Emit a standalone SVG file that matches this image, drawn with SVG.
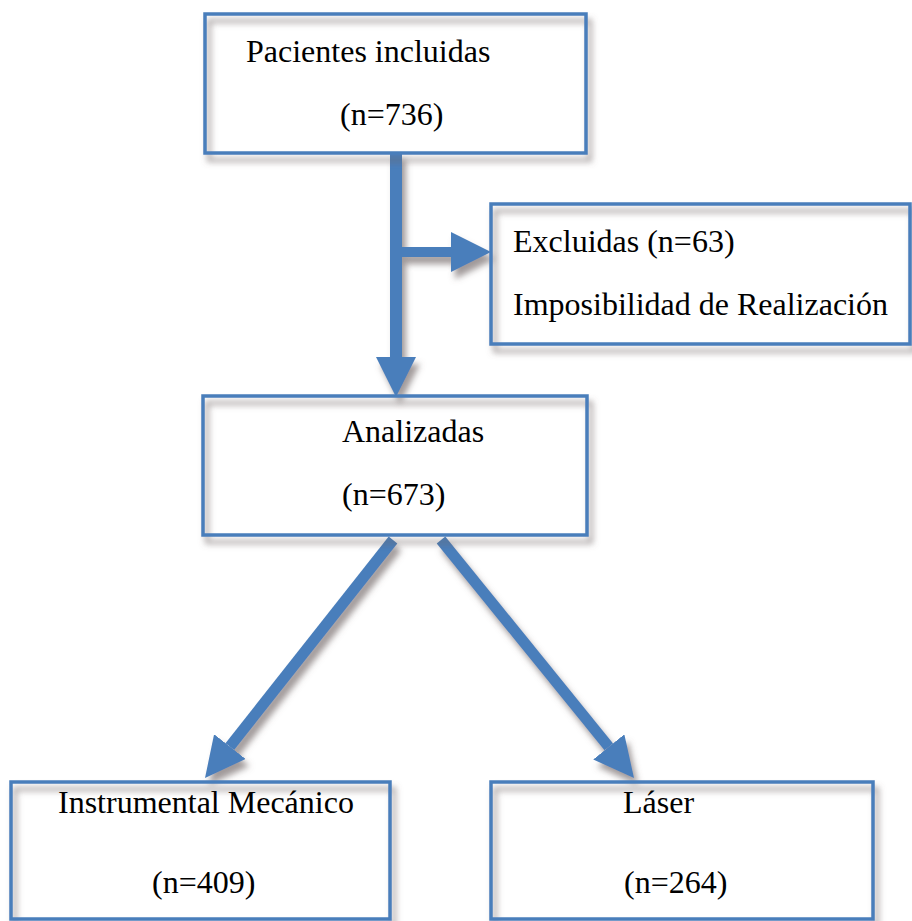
<svg xmlns="http://www.w3.org/2000/svg" width="912" height="921" viewBox="0 0 912 921">
  <style>
    .box { fill: none; stroke: #4A7EBB; stroke-width: 3.5; filter: url(#shade); }
    .lbl { font-family: "Liberation Serif", "Times New Roman", serif; font-size: 32px; fill: #000; }
    .link { stroke: #4A7EBB; fill: none; }
  </style>
  <defs>
    <filter id="shade" x="-10%" y="-10%" width="130%" height="130%">
      <feDropShadow dx="4" dy="7" stdDeviation="3" flood-color="#6e6464" flood-opacity="0.65"/>
    </filter>
    <marker id="head" viewBox="0 0 40 40" refX="0" refY="20" markerWidth="40" markerHeight="40" markerUnits="userSpaceOnUse" orient="auto">
      <path d="M0,0 L40,20 L0,40 z" fill="#4A7EBB"/>
    </marker>
  </defs>

  <rect width="912" height="921" fill="#ffffff"/>

  <!-- connectors -->
  <g id="connectors" filter="url(#shade)">
    <line class="link" x1="396" y1="153" x2="396" y2="357" stroke-width="12" marker-end="url(#head)"/>
    <line class="link" x1="396" y1="252" x2="451" y2="252" stroke-width="10" marker-end="url(#head)"/>
    <line class="link" x1="393" y1="540" x2="229.8" y2="746.6" stroke-width="11" marker-end="url(#head)"/>
    <line class="link" x1="441" y1="540" x2="608.8" y2="746.9" stroke-width="11" marker-end="url(#head)"/>
  </g>

  <!-- nodes -->
  <g id="incluidas">
    <rect class="box" x="205" y="14" width="381" height="139"/>
    <text class="lbl" x="246" y="62">Pacientes incluidas</text>
    <text class="lbl" x="340" y="125">(n=736)</text>
  </g>

  <g id="excluidas">
    <rect class="box" x="491" y="204" width="419" height="140"/>
    <text class="lbl" x="513" y="252">Excluidas (n=63)</text>
    <text class="lbl" x="513" y="315">Imposibilidad de Realización</text>
  </g>

  <g id="analizadas">
    <rect class="box" x="203" y="396" width="384" height="139"/>
    <text class="lbl" x="342" y="442">Analizadas</text>
    <text class="lbl" x="342" y="505">(n=673)</text>
  </g>

  <g id="instrumental">
    <rect class="box" x="11" y="782" width="379" height="137"/>
    <text class="lbl" x="58" y="813">Instrumental Mecánico</text>
    <text class="lbl" x="152" y="893">(n=409)</text>
  </g>

  <g id="laser">
    <rect class="box" x="491" y="782" width="382" height="137"/>
    <text class="lbl" x="623" y="813">Láser</text>
    <text class="lbl" x="624" y="893">(n=264)</text>
  </g>
</svg>
